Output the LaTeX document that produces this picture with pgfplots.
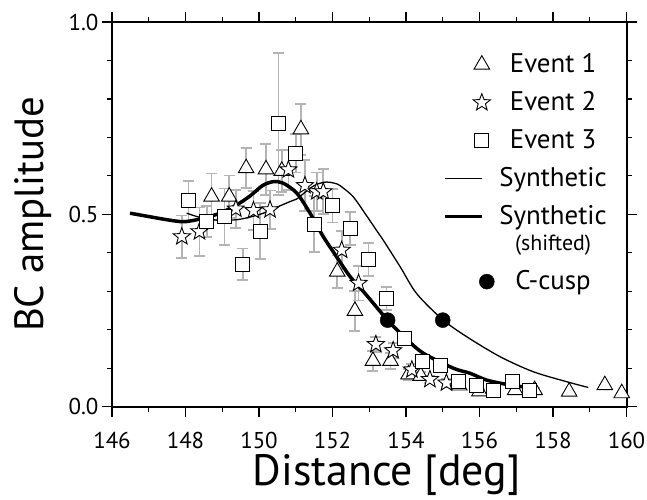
\documentclass[border=0pt]{standalone}
\usepackage{fontspec}
\setmainfont{PT Sans}
\usepackage{pgfplots}
\pgfplotsset{compat=1.18}
\definecolor{errgray}{RGB}{180,180,180}
\pgfdeclareplotmark{fivestar}{%
  \pgfpathmoveto{\pgfpointpolar{90}{\pgfplotmarksize}}%
  \pgfpathlineto{\pgfpointpolar{126}{0.42\pgfplotmarksize}}%
  \pgfpathlineto{\pgfpointpolar{162}{\pgfplotmarksize}}%
  \pgfpathlineto{\pgfpointpolar{198}{0.42\pgfplotmarksize}}%
  \pgfpathlineto{\pgfpointpolar{234}{\pgfplotmarksize}}%
  \pgfpathlineto{\pgfpointpolar{270}{0.42\pgfplotmarksize}}%
  \pgfpathlineto{\pgfpointpolar{306}{\pgfplotmarksize}}%
  \pgfpathlineto{\pgfpointpolar{342}{0.42\pgfplotmarksize}}%
  \pgfpathlineto{\pgfpointpolar{18}{\pgfplotmarksize}}%
  \pgfpathlineto{\pgfpointpolar{54}{0.42\pgfplotmarksize}}%
  \pgfpathclose
  \pgfusepathqfillstroke
}
\pgfplotsset{
  markleg/.style={legend image code/.code={\draw[##1] plot coordinates {(#1,0bp)};}},
  lineleg/.style={legend image code/.code={\draw[##1] (0bp,#1) -- (37bp,#1);}},
  errs/.style={error bars/.cd, y dir=both, y explicit,
    error bar style={line width=1.8bp, errgray},
    error mark options={rotate=90, mark size=5.5bp, line width=1.8bp, errgray}},
}

\pgfplotstableread{
x y err
148.71 0.546 0.060
149.19 0.546 0.055
149.65 0.620 0.052
150.19 0.617 0.066
150.62 0.613 0.054
151.14 0.721 0.066
152.13 0.351 0.042
152.61 0.249 0.052
153.10 0.119 0.026
153.58 0.119 0.020
154.07 0.084 0.015
154.40 0.080 0.010
155.45 0.055 0.008
156.00 0.040 0.005
156.97 0.043 0.005
157.50 0.043 0.005
158.44 0.039 0.000
159.41 0.056 0.000
159.87 0.035 0.000
}\eventone

\pgfplotstableread{
x y err
147.90 0.442 0.055
148.38 0.455 0.063
149.37 0.514 0.050
149.85 0.510 0.050
150.30 0.512 0.050
150.80 0.616 0.052
151.25 0.575 0.067
151.57 0.559 0.050
151.75 0.559 0.058
152.25 0.407 0.050
152.71 0.321 0.045
153.18 0.162 0.020
153.65 0.146 0.020
154.16 0.096 0.015
154.65 0.071 0.010
155.10 0.062 0.010
}\eventtwo

\pgfplotstableread{
x y err
148.08 0.535 0.052
148.58 0.481 0.040
149.06 0.494 0.073
149.56 0.370 0.041
150.03 0.456 0.073
150.53 0.735 0.185
151.00 0.659 0.050
151.50 0.475 0.073
152.00 0.522 0.043
152.48 0.464 0.043
152.98 0.383 0.043
153.47 0.282 0.030
153.97 0.178 0.015
154.45 0.117 0.010
154.93 0.107 0.010
155.42 0.065 0.008
155.92 0.056 0.008
156.39 0.042 0.005
156.90 0.065 0.005
157.37 0.043 0.005
}\eventthree

\pgfplotstableread{
x y
148.03 0.503
148.40 0.492
148.85 0.485
149.39 0.486
149.80 0.494
150.12 0.503
150.30 0.511
150.84 0.533
151.03 0.540
151.39 0.568
151.60 0.579
151.84 0.584
152.05 0.581
152.20 0.575
152.56 0.546
152.93 0.496
153.25 0.451
153.38 0.433
153.84 0.364
154.29 0.294
154.99 0.227
155.65 0.182
156.56 0.130
157.46 0.091
158.37 0.065
158.96 0.050
}\synth

\pgfplotstableread{
x y
146.49 0.503
146.90 0.496
147.31 0.489
147.70 0.483
147.99 0.481
148.40 0.488
148.94 0.503
149.40 0.525
149.76 0.548
150.10 0.575
150.39 0.585
150.66 0.581
151.03 0.555
151.39 0.503
151.75 0.442
152.11 0.390
152.48 0.338
152.88 0.295
153.50 0.225
154.00 0.177
154.47 0.139
155.29 0.100
155.74 0.087
156.20 0.069
156.80 0.057
157.46 0.048
}\shifted

\pgfplotstableread{
x y
153.5 0.225
155.0 0.225
}\cusp

\begin{document}
\begin{tikzpicture}
\useasboundingbox (-112bp,-93.3bp) rectangle (535bp,406.7bp);
\begin{axis}[
  at={(0,0)}, anchor=south west,
  scale only axis, width=514.5bp, height=384.7bp,
  xmin=146, xmax=160, ymin=0, ymax=1,
  xtick={146,148,...,160}, minor x tick num=1,
  ytick={0,0.5,1}, minor y tick num=4,
  yticklabel style={/pgf/number format/.cd, fixed, fixed zerofill, precision=1},
  /pgf/number format/assume math mode=true,
  tick align=outside, tick pos=both,
  major tick length=10bp, minor tick length=5bp,
  every tick/.style={black, line width=1.2bp},
  axis line style={line width=2bp},
  ticklabel style={font=\fontsize{23}{23}\selectfont},
  xticklabel style={inner sep=0pt, text height=16bp, text depth=0pt, yshift=-15.5bp},
  xlabel={Distance [deg]}, ylabel={BC amplitude},
  xlabel style={font=\fontsize{44}{44}\selectfont, inner sep=0pt,
    text height=32bp, text depth=10bp,
    at={(axis description cs:0.5335,-0.175)}, anchor=center},
  ylabel style={font=\fontsize{41}{41}\selectfont,
    at={(axis description cs:-0.153,0.5)}, anchor=center},
  legend style={draw=none, fill=none, inner sep=0pt,
    at={(axis description cs:0.966,0.930)}, anchor=north east,
    font=\fontsize{27}{27}\selectfont, row sep=7bp, column sep=3bp,
    nodes={inner sep=2bp, text height=21bp, text depth=6bp},
    cells={anchor=center}},
]
\addplot[only marks, mark=triangle*, mark size=9bp, draw=black,
  mark options={fill=white, draw=black, line width=0.9bp},
  markleg=37bp, errs]
  table[x=x, y=y, y error=err] {\eventone};
\addlegendentry{Event 1}
\addplot[only marks, mark=fivestar, mark size=9bp, draw=black,
  mark options={fill=white, draw=black, line width=0.9bp},
  markleg=37bp, errs]
  table[x=x, y=y, y error=err] {\eventtwo};
\addlegendentry{Event 2}
\addplot[only marks, mark=square*, mark size=7bp, draw=black,
  mark options={fill=white, draw=black, line width=0.9bp},
  markleg=37bp, errs]
  table[x=x, y=y, y error=err] {\eventthree};
\addlegendentry{Event 3}
\addplot[black, line width=1.3bp, smooth, no marks, lineleg=0bp]
  table[x=x, y=y] {\synth};
\addlegendentry{Synthetic}
\addplot[black, line width=3.5bp, smooth, no marks, lineleg=0bp]
  table[x=x, y=y] {\shifted};
\addlegendentry{Synthetic}
\addlegendimage{empty legend}
\addlegendentry[text height=9.5bp, text depth=6.5bp, font=\fontsize{22}{22}\selectfont]{(shifted)}
\addplot[only marks, mark=*, mark size=7.5bp, black, markleg=42bp]
  table[x=x, y=y] {\cusp};
\addlegendentry{C-cusp}
\end{axis}
\end{tikzpicture}
\end{document}
